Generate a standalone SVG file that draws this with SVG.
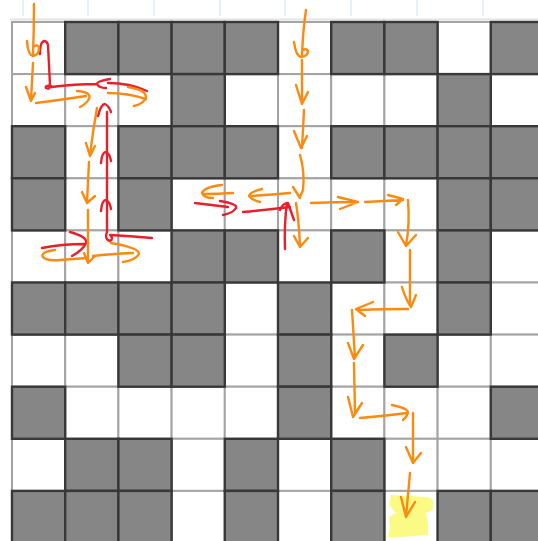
<svg xmlns="http://www.w3.org/2000/svg" width="538" height="541" viewBox="0 0 538 541">
<style>
.w{fill:#ffffff;stroke:#a4a4a4;stroke-width:2}
.g{fill:#868686;stroke:#383838;stroke-width:2.4}
.o{fill:none;stroke:#fb8a10;stroke-width:2.4;stroke-linecap:round;stroke-linejoin:round}
.r{fill:none;stroke:#e8202c;stroke-width:2.4;stroke-linecap:round;stroke-linejoin:round}
.t{stroke:#d3e8f6;stroke-width:1.2}
</style>
<rect width="538" height="541" fill="#ffffff"/>
<g id="ruler">
<line class="t" x1="23" y1="0" x2="23" y2="16"/>
<line class="t" x1="88" y1="0" x2="88" y2="16"/>
<line class="t" x1="154" y1="0" x2="154" y2="16"/>
<line class="t" x1="220" y1="0" x2="220" y2="16"/>
<line class="t" x1="285" y1="0" x2="285" y2="16"/>
<line class="t" x1="351" y1="0" x2="351" y2="16"/>
<line class="t" x1="417" y1="0" x2="417" y2="16"/>
<line class="t" x1="483" y1="0" x2="483" y2="16"/>
<line x1="10" y1="19.5" x2="538" y2="19.5" stroke="#e4e4e4" stroke-width="2"/>
</g>
<g id="grid-white">
<rect class="w" x="12" y="22" width="53.2" height="52.1"/>
<rect class="w" x="278" y="22" width="53.2" height="52.1"/>
<rect class="w" x="437.6" y="22" width="53.2" height="52.1"/>
<rect class="w" x="12" y="74.1" width="53.2" height="52.1"/>
<rect class="w" x="65.2" y="74.1" width="53.2" height="52.1"/>
<rect class="w" x="118.4" y="74.1" width="53.2" height="52.1"/>
<rect class="w" x="224.8" y="74.1" width="53.2" height="52.1"/>
<rect class="w" x="278" y="74.1" width="53.2" height="52.1"/>
<rect class="w" x="331.2" y="74.1" width="53.2" height="52.1"/>
<rect class="w" x="384.4" y="74.1" width="53.2" height="52.1"/>
<rect class="w" x="490.8" y="74.1" width="53.2" height="52.1"/>
<rect class="w" x="65.2" y="126.2" width="53.2" height="52.1"/>
<rect class="w" x="278" y="126.2" width="53.2" height="52.1"/>
<rect class="w" x="65.2" y="178.3" width="53.2" height="52.1"/>
<rect class="w" x="171.6" y="178.3" width="53.2" height="52.1"/>
<rect class="w" x="224.8" y="178.3" width="53.2" height="52.1"/>
<rect class="w" x="278" y="178.3" width="53.2" height="52.1"/>
<rect class="w" x="331.2" y="178.3" width="53.2" height="52.1"/>
<rect class="w" x="384.4" y="178.3" width="53.2" height="52.1"/>
<rect class="w" x="12" y="230.4" width="53.2" height="52.1"/>
<rect class="w" x="65.2" y="230.4" width="53.2" height="52.1"/>
<rect class="w" x="118.4" y="230.4" width="53.2" height="52.1"/>
<rect class="w" x="278" y="230.4" width="53.2" height="52.1"/>
<rect class="w" x="384.4" y="230.4" width="53.2" height="52.1"/>
<rect class="w" x="490.8" y="230.4" width="53.2" height="52.1"/>
<rect class="w" x="224.8" y="282.5" width="53.2" height="52.1"/>
<rect class="w" x="331.2" y="282.5" width="53.2" height="52.1"/>
<rect class="w" x="384.4" y="282.5" width="53.2" height="52.1"/>
<rect class="w" x="490.8" y="282.5" width="53.2" height="52.1"/>
<rect class="w" x="12" y="334.6" width="53.2" height="52.1"/>
<rect class="w" x="65.2" y="334.6" width="53.2" height="52.1"/>
<rect class="w" x="224.8" y="334.6" width="53.2" height="52.1"/>
<rect class="w" x="331.2" y="334.6" width="53.2" height="52.1"/>
<rect class="w" x="437.6" y="334.6" width="53.2" height="52.1"/>
<rect class="w" x="490.8" y="334.6" width="53.2" height="52.1"/>
<rect class="w" x="65.2" y="386.7" width="53.2" height="52.1"/>
<rect class="w" x="118.4" y="386.7" width="53.2" height="52.1"/>
<rect class="w" x="171.6" y="386.7" width="53.2" height="52.1"/>
<rect class="w" x="224.8" y="386.7" width="53.2" height="52.1"/>
<rect class="w" x="331.2" y="386.7" width="53.2" height="52.1"/>
<rect class="w" x="384.4" y="386.7" width="53.2" height="52.1"/>
<rect class="w" x="437.6" y="386.7" width="53.2" height="52.1"/>
<rect class="w" x="12" y="438.8" width="53.2" height="52.1"/>
<rect class="w" x="171.6" y="438.8" width="53.2" height="52.1"/>
<rect class="w" x="278" y="438.8" width="53.2" height="52.1"/>
<rect class="w" x="384.4" y="438.8" width="53.2" height="52.1"/>
<rect class="w" x="437.6" y="438.8" width="53.2" height="52.1"/>
<rect class="w" x="490.8" y="438.8" width="53.2" height="52.1"/>
<rect class="w" x="171.6" y="490.9" width="53.2" height="52.1"/>
<rect class="w" x="278" y="490.9" width="53.2" height="52.1"/>
<rect class="w" x="384.4" y="490.9" width="53.2" height="52.1"/>
</g>
<g id="grid-gray">
<rect class="g" x="65.2" y="22" width="53.2" height="52.1"/>
<rect class="g" x="118.4" y="22" width="53.2" height="52.1"/>
<rect class="g" x="171.6" y="22" width="53.2" height="52.1"/>
<rect class="g" x="224.8" y="22" width="53.2" height="52.1"/>
<rect class="g" x="331.2" y="22" width="53.2" height="52.1"/>
<rect class="g" x="384.4" y="22" width="53.2" height="52.1"/>
<rect class="g" x="490.8" y="22" width="53.2" height="52.1"/>
<rect class="g" x="171.6" y="74.1" width="53.2" height="52.1"/>
<rect class="g" x="437.6" y="74.1" width="53.2" height="52.1"/>
<rect class="g" x="12" y="126.2" width="53.2" height="52.1"/>
<rect class="g" x="118.4" y="126.2" width="53.2" height="52.1"/>
<rect class="g" x="171.6" y="126.2" width="53.2" height="52.1"/>
<rect class="g" x="224.8" y="126.2" width="53.2" height="52.1"/>
<rect class="g" x="331.2" y="126.2" width="53.2" height="52.1"/>
<rect class="g" x="384.4" y="126.2" width="53.2" height="52.1"/>
<rect class="g" x="437.6" y="126.2" width="53.2" height="52.1"/>
<rect class="g" x="490.8" y="126.2" width="53.2" height="52.1"/>
<rect class="g" x="12" y="178.3" width="53.2" height="52.1"/>
<rect class="g" x="118.4" y="178.3" width="53.2" height="52.1"/>
<rect class="g" x="437.6" y="178.3" width="53.2" height="52.1"/>
<rect class="g" x="490.8" y="178.3" width="53.2" height="52.1"/>
<rect class="g" x="171.6" y="230.4" width="53.2" height="52.1"/>
<rect class="g" x="224.8" y="230.4" width="53.2" height="52.1"/>
<rect class="g" x="331.2" y="230.4" width="53.2" height="52.1"/>
<rect class="g" x="437.6" y="230.4" width="53.2" height="52.1"/>
<rect class="g" x="12" y="282.5" width="53.2" height="52.1"/>
<rect class="g" x="65.2" y="282.5" width="53.2" height="52.1"/>
<rect class="g" x="118.4" y="282.5" width="53.2" height="52.1"/>
<rect class="g" x="171.6" y="282.5" width="53.2" height="52.1"/>
<rect class="g" x="278" y="282.5" width="53.2" height="52.1"/>
<rect class="g" x="437.6" y="282.5" width="53.2" height="52.1"/>
<rect class="g" x="118.4" y="334.6" width="53.2" height="52.1"/>
<rect class="g" x="171.6" y="334.6" width="53.2" height="52.1"/>
<rect class="g" x="278" y="334.6" width="53.2" height="52.1"/>
<rect class="g" x="384.4" y="334.6" width="53.2" height="52.1"/>
<rect class="g" x="12" y="386.7" width="53.2" height="52.1"/>
<rect class="g" x="278" y="386.7" width="53.2" height="52.1"/>
<rect class="g" x="490.8" y="386.7" width="53.2" height="52.1"/>
<rect class="g" x="65.2" y="438.8" width="53.2" height="52.1"/>
<rect class="g" x="118.4" y="438.8" width="53.2" height="52.1"/>
<rect class="g" x="224.8" y="438.8" width="53.2" height="52.1"/>
<rect class="g" x="331.2" y="438.8" width="53.2" height="52.1"/>
<rect class="g" x="12" y="490.9" width="53.2" height="52.1"/>
<rect class="g" x="65.2" y="490.9" width="53.2" height="52.1"/>
<rect class="g" x="118.4" y="490.9" width="53.2" height="52.1"/>
<rect class="g" x="224.8" y="490.9" width="53.2" height="52.1"/>
<rect class="g" x="331.2" y="490.9" width="53.2" height="52.1"/>
<rect class="g" x="437.6" y="490.9" width="53.2" height="52.1"/>
<rect class="g" x="490.8" y="490.9" width="53.2" height="52.1"/>
</g>
<g id="goal">
<polygon points="391,495 428,497 433,500 433,510 426,513 428,525 428,535 400,537 388,537 390,527 389,517 396,513 389,505" fill="#fbfa84"/>
</g>
<g id="connectors">
<g id="red-strokes">
<path class="r" d="M40,54 Q40,42 44,41 Q47,41 48,45 L50,85 Q50,90 46,88 Q45,85 51,86"/>
<path class="r" d="M51,87 Q75,84 97,84 M108,83 Q130,83 147,91 M110,79 Q97,81 97,84 Q99,88 106,88"/>
<path class="r" d="M107,232 L107,112 M98,116 Q101,104 105,104 Q109,106 111,112"/>
<path class="r" d="M101,163 Q102,152 106,152 Q110,154 111,161"/>
<path class="r" d="M101,211 Q102,200 106,200 Q110,202 111,209"/>
<path class="r" d="M107,232 Q104,239 110,241 Q114,239 110,235 Q130,236 152,238"/>
<path class="r" d="M42,248 Q62,244 84,244 M70,232 Q88,237 86,243 Q83,250 72,256"/>
<path class="r" d="M195,203 Q212,205 228,207 M220,201 Q238,204 236,208 Q233,213 223,215"/>
<path class="r" d="M243,212 Q265,210 290,207"/>
<path class="r" d="M285,249 Q284,225 287,203 M280,210 Q283,203 288,203 L294,220"/>
</g>
<g id="orange-strokes">
<path class="o" d="M34,4 Q34,30 33,55 M27,41 Q28,55 33,56 Q39,55 39,48 Q38,44 35,46"/>
<path class="o" d="M33,63 L31,100 M26,87 L31,101 L35,93"/>
<path class="o" d="M36,103 Q60,100 86,96 M77,91 Q92,92 89,99 Q86,104 80,107"/>
<path class="o" d="M108,93 Q128,93 146,99 M128,87 Q147,90 146,98 Q143,104 134,106"/>
<path class="o" d="M97,108 Q93,130 90,155 M86,143 L90,156 L95,146"/>
<path class="o" d="M89,162 L87,202 M82,192 L87,203 L95,196"/>
<path class="o" d="M88,210 L88,262 M84,253 L88,263 L95,256"/>
<path class="o" d="M55,250 Q40,252 43,257 Q46,261 60,260 L87,258"/>
<path class="o" d="M93,256 Q110,254 133,253 M111,243 Q140,248 139,254 Q136,260 123,262"/>
<path class="o" d="M306,10 Q303,30 302,55 M294,42 Q296,56 301,57 Q308,56 308,51 Q306,48 303,50"/>
<path class="o" d="M302,60 L302,103 M296,85 L302,104 L308,92"/>
<path class="o" d="M304,110 L302,148 M294,131 L301,148 L307,136"/>
<path class="o" d="M300,155 Q305,172 303,190 L300,197 M293,187 L300,198"/>
<path class="o" d="M296,203 Q299,222 300,246 M294,236 L300,247 L308,238"/>
<path class="o" d="M290,193 Q270,195 250,196 M262,189 Q250,192 249,196 Q252,200 260,202"/>
<path class="o" d="M233,193 Q218,194 203,194 M222,185 Q204,187 202,193 Q204,198 213,198"/>
<path class="o" d="M311,203 Q335,202 358,202 M338,197 L358,202 L340,209"/>
<path class="o" d="M365,202 L403,200 M388,195 L403,199 L396,205"/>
<path class="o" d="M408,200 Q410,225 406,245 M398,232 L406,246 L416,235"/>
<path class="o" d="M410,250 L410,305 M402,287 Q406,300 411,307 Q414,300 416,295"/>
<path class="o" d="M408,309 Q385,309 358,310 M373,302 L356,309 L365,316"/>
<path class="o" d="M352,310 L355,358 M348,343 L354,359 L363,345"/>
<path class="o" d="M354,363 L355,413 M348,397 L353,417 L362,403"/>
<path class="o" d="M360,418 Q385,416 407,413 M392,405 Q407,408 408,412 Q407,417 403,420"/>
<path class="o" d="M413,413 L413,462 M406,447 L413,463 L421,453"/>
<path class="o" d="M410,473 L406,517 M401,497 L406,517 L415,502"/>
</g>
</g>
</svg>
